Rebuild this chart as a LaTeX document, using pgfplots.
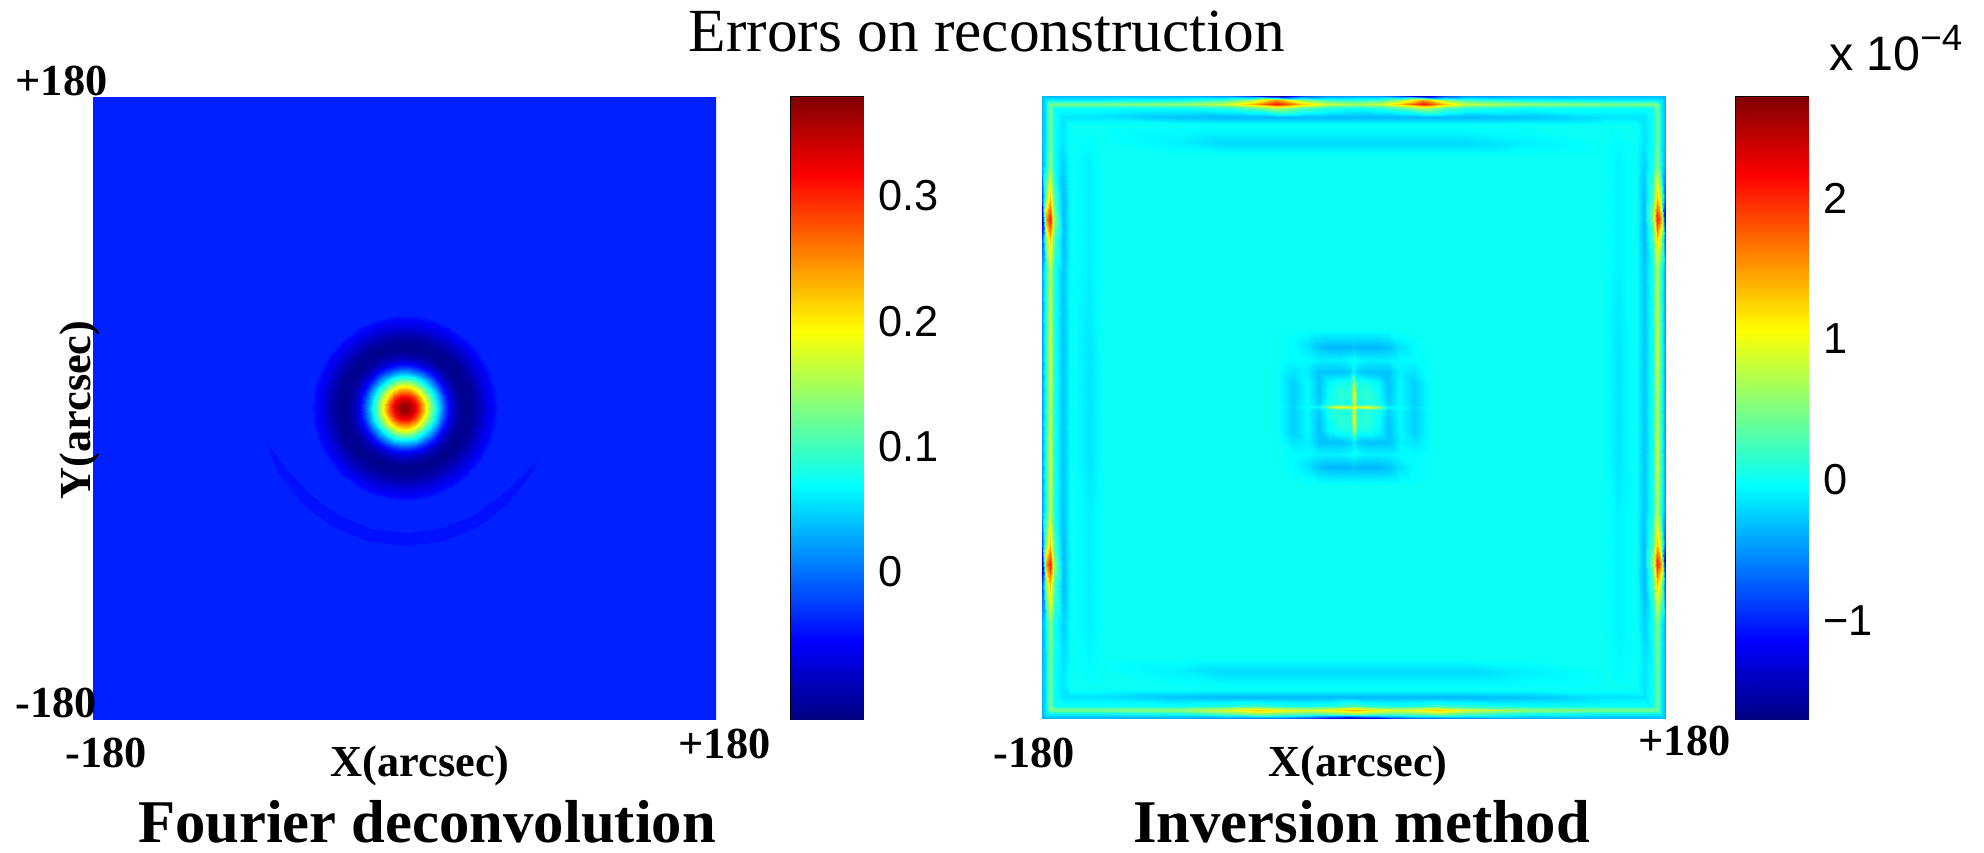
\documentclass[border=0pt]{standalone}
\usepackage{fontspec}
\setmainfont{Liberation Serif}
\setsansfont{Liberation Sans}
\usepackage{pgfplots}
\pgfplotsset{compat=1.18}
\definecolor{cres}{RGB}{0,16,255}
\pgfplotsset{
 panel/.style={scale only axis, width=186.9pt, height=186.6pt,
   xmin=-180, xmax=180, ymin=-180, ymax=180,
   axis line style={draw=none}, xtick=\empty, ytick=\empty, colormap/jet},
 cbaxis/.style={scale only axis, width=21.6pt, height=186.6pt, anchor=north west,
   xmin=0, xmax=1, xtick=\empty, colormap/jet,
   axis line style={draw=black, line width=0.6pt},
   tick align=inside, ytick pos=both, yticklabel pos=right,
   major tick length=2pt, tick style={black, line width=0.5pt},
   yticklabel style={font=\fontsize{13}{13}\selectfont\sffamily, xshift=1pt}},
 lay/.style={surf, shader=interp, point meta=explicit},
}
\begin{document}
\begin{tikzpicture}
\path[use as bounding box] (0pt,0pt) rectangle (595.2pt,-255.6pt);

% ---------------- Left panel: Fourier deconvolution ----------------
\begin{axis}[panel, at={(27.9pt,-29.1pt)}, anchor=north west,
  point meta min=-0.1175, point meta max=0.379]
% background
\addplot[surf, shader=flat, point meta=explicit, mesh/cols=2] table[meta index=2, row sep=\\] {
x y v\\ -180 -180 -0.04\\ 180 -180 -0.04\\ -180 180 -0.04\\ 180 180 -0.04\\};
% crescent
\addplot[draw=none, fill=cres] coordinates {
(-80.7,-18.8) (-72.7,-37.75) (-59.3,-55.25) (-41.75,-68.7) (-21.4,-77.1) (0.5,-80.0)
(22.4,-77.1) (42.75,-68.7) (60.25,-55.25) (73.7,-37.75) (78.3,-28.5)
(71.1,-36.25) (56.0,-51.0) (39.25,-62.6) (20.4,-69.9) (0.5,-72.5)
(-19.4,-69.9) (-38.0,-62.2) (-54.3,-50.3) (-68.35,-35.25) (-80.7,-18.8)};
% central error blob (angle, radius, value)
\addplot[lay, mesh/cols=31, data cs=polar] table[meta index=2, row sep=\\] {
a r v\\
0 0 0.372\\ 12 0 0.372\\ 24 0 0.372\\ 36 0 0.372\\ 48 0 0.372\\ 60 0 0.372\\ 72 0 0.372\\ 84 0 0.372\\ 96 0 0.372\\ 108 0 0.372\\ 120 0 0.372\\ 132 0 0.372\\ 144 0 0.372\\ 156 0 0.372\\ 168 0 0.372\\ 180 0 0.372\\ 192 0 0.372\\ 204 0 0.372\\ 216 0 0.372\\ 228 0 0.372\\ 240 0 0.372\\ 252 0 0.372\\ 264 0 0.372\\ 276 0 0.372\\ 288 0 0.372\\ 300 0 0.372\\ 312 0 0.372\\ 324 0 0.372\\ 336 0 0.372\\ 348 0 0.372\\ 360 0 0.372\\
0 3 0.361\\ 12 3 0.361\\ 24 3 0.361\\ 36 3 0.361\\ 48 3 0.361\\ 60 3 0.361\\ 72 3 0.361\\ 84 3 0.361\\ 96 3 0.361\\ 108 3 0.361\\ 120 3 0.361\\ 132 3 0.361\\ 144 3 0.361\\ 156 3 0.361\\ 168 3 0.361\\ 180 3 0.361\\ 192 3 0.361\\ 204 3 0.361\\ 216 3 0.361\\ 228 3 0.361\\ 240 3 0.361\\ 252 3 0.361\\ 264 3 0.361\\ 276 3 0.361\\ 288 3 0.361\\ 300 3 0.361\\ 312 3 0.361\\ 324 3 0.361\\ 336 3 0.361\\ 348 3 0.361\\ 360 3 0.361\\
0 6 0.327\\ 12 6 0.327\\ 24 6 0.327\\ 36 6 0.327\\ 48 6 0.327\\ 60 6 0.327\\ 72 6 0.327\\ 84 6 0.327\\ 96 6 0.327\\ 108 6 0.327\\ 120 6 0.327\\ 132 6 0.327\\ 144 6 0.327\\ 156 6 0.327\\ 168 6 0.327\\ 180 6 0.327\\ 192 6 0.327\\ 204 6 0.327\\ 216 6 0.327\\ 228 6 0.327\\ 240 6 0.327\\ 252 6 0.327\\ 264 6 0.327\\ 276 6 0.327\\ 288 6 0.327\\ 300 6 0.327\\ 312 6 0.327\\ 324 6 0.327\\ 336 6 0.327\\ 348 6 0.327\\ 360 6 0.327\\
0 9 0.271\\ 12 9 0.271\\ 24 9 0.271\\ 36 9 0.271\\ 48 9 0.271\\ 60 9 0.271\\ 72 9 0.271\\ 84 9 0.271\\ 96 9 0.271\\ 108 9 0.271\\ 120 9 0.271\\ 132 9 0.271\\ 144 9 0.271\\ 156 9 0.271\\ 168 9 0.271\\ 180 9 0.271\\ 192 9 0.271\\ 204 9 0.271\\ 216 9 0.271\\ 228 9 0.271\\ 240 9 0.271\\ 252 9 0.271\\ 264 9 0.271\\ 276 9 0.271\\ 288 9 0.271\\ 300 9 0.271\\ 312 9 0.271\\ 324 9 0.271\\ 336 9 0.271\\ 348 9 0.271\\ 360 9 0.271\\
0 12 0.204\\ 12 12 0.204\\ 24 12 0.204\\ 36 12 0.204\\ 48 12 0.204\\ 60 12 0.204\\ 72 12 0.204\\ 84 12 0.204\\ 96 12 0.204\\ 108 12 0.204\\ 120 12 0.204\\ 132 12 0.204\\ 144 12 0.204\\ 156 12 0.204\\ 168 12 0.204\\ 180 12 0.204\\ 192 12 0.204\\ 204 12 0.204\\ 216 12 0.204\\ 228 12 0.204\\ 240 12 0.204\\ 252 12 0.204\\ 264 12 0.204\\ 276 12 0.204\\ 288 12 0.204\\ 300 12 0.204\\ 312 12 0.204\\ 324 12 0.204\\ 336 12 0.204\\ 348 12 0.204\\ 360 12 0.204\\
0 15 0.137\\ 12 15 0.137\\ 24 15 0.137\\ 36 15 0.137\\ 48 15 0.137\\ 60 15 0.137\\ 72 15 0.137\\ 84 15 0.137\\ 96 15 0.137\\ 108 15 0.137\\ 120 15 0.137\\ 132 15 0.137\\ 144 15 0.137\\ 156 15 0.137\\ 168 15 0.137\\ 180 15 0.137\\ 192 15 0.137\\ 204 15 0.137\\ 216 15 0.137\\ 228 15 0.137\\ 240 15 0.137\\ 252 15 0.137\\ 264 15 0.137\\ 276 15 0.137\\ 288 15 0.137\\ 300 15 0.137\\ 312 15 0.137\\ 324 15 0.137\\ 336 15 0.137\\ 348 15 0.137\\ 360 15 0.137\\
0 18 0.075\\ 12 18 0.075\\ 24 18 0.075\\ 36 18 0.075\\ 48 18 0.075\\ 60 18 0.075\\ 72 18 0.075\\ 84 18 0.075\\ 96 18 0.075\\ 108 18 0.075\\ 120 18 0.075\\ 132 18 0.075\\ 144 18 0.075\\ 156 18 0.075\\ 168 18 0.075\\ 180 18 0.075\\ 192 18 0.075\\ 204 18 0.075\\ 216 18 0.075\\ 228 18 0.075\\ 240 18 0.075\\ 252 18 0.075\\ 264 18 0.075\\ 276 18 0.075\\ 288 18 0.075\\ 300 18 0.075\\ 312 18 0.075\\ 324 18 0.075\\ 336 18 0.075\\ 348 18 0.075\\ 360 18 0.075\\
0 21 0.019\\ 12 21 0.019\\ 24 21 0.019\\ 36 21 0.019\\ 48 21 0.019\\ 60 21 0.019\\ 72 21 0.019\\ 84 21 0.019\\ 96 21 0.019\\ 108 21 0.019\\ 120 21 0.019\\ 132 21 0.019\\ 144 21 0.019\\ 156 21 0.019\\ 168 21 0.019\\ 180 21 0.019\\ 192 21 0.019\\ 204 21 0.019\\ 216 21 0.019\\ 228 21 0.019\\ 240 21 0.019\\ 252 21 0.019\\ 264 21 0.019\\ 276 21 0.019\\ 288 21 0.019\\ 300 21 0.019\\ 312 21 0.019\\ 324 21 0.019\\ 336 21 0.019\\ 348 21 0.019\\ 360 21 0.019\\
0 24 -0.031\\ 12 24 -0.031\\ 24 24 -0.031\\ 36 24 -0.031\\ 48 24 -0.031\\ 60 24 -0.031\\ 72 24 -0.031\\ 84 24 -0.031\\ 96 24 -0.031\\ 108 24 -0.031\\ 120 24 -0.031\\ 132 24 -0.031\\ 144 24 -0.031\\ 156 24 -0.031\\ 168 24 -0.031\\ 180 24 -0.031\\ 192 24 -0.031\\ 204 24 -0.031\\ 216 24 -0.031\\ 228 24 -0.031\\ 240 24 -0.031\\ 252 24 -0.031\\ 264 24 -0.031\\ 276 24 -0.031\\ 288 24 -0.031\\ 300 24 -0.031\\ 312 24 -0.031\\ 324 24 -0.031\\ 336 24 -0.031\\ 348 24 -0.031\\ 360 24 -0.031\\
0 27 -0.070\\ 12 27 -0.070\\ 24 27 -0.070\\ 36 27 -0.070\\ 48 27 -0.070\\ 60 27 -0.070\\ 72 27 -0.070\\ 84 27 -0.070\\ 96 27 -0.070\\ 108 27 -0.070\\ 120 27 -0.070\\ 132 27 -0.070\\ 144 27 -0.070\\ 156 27 -0.070\\ 168 27 -0.070\\ 180 27 -0.070\\ 192 27 -0.070\\ 204 27 -0.070\\ 216 27 -0.070\\ 228 27 -0.070\\ 240 27 -0.070\\ 252 27 -0.070\\ 264 27 -0.070\\ 276 27 -0.070\\ 288 27 -0.070\\ 300 27 -0.070\\ 312 27 -0.070\\ 324 27 -0.070\\ 336 27 -0.070\\ 348 27 -0.070\\ 360 27 -0.070\\
0 30 -0.096\\ 12 30 -0.096\\ 24 30 -0.096\\ 36 30 -0.096\\ 48 30 -0.096\\ 60 30 -0.096\\ 72 30 -0.096\\ 84 30 -0.096\\ 96 30 -0.096\\ 108 30 -0.096\\ 120 30 -0.096\\ 132 30 -0.096\\ 144 30 -0.096\\ 156 30 -0.096\\ 168 30 -0.096\\ 180 30 -0.096\\ 192 30 -0.096\\ 204 30 -0.096\\ 216 30 -0.096\\ 228 30 -0.096\\ 240 30 -0.096\\ 252 30 -0.096\\ 264 30 -0.096\\ 276 30 -0.096\\ 288 30 -0.096\\ 300 30 -0.096\\ 312 30 -0.096\\ 324 30 -0.096\\ 336 30 -0.096\\ 348 30 -0.096\\ 360 30 -0.096\\
0 34 -0.111\\ 12 34 -0.111\\ 24 34 -0.111\\ 36 34 -0.111\\ 48 34 -0.111\\ 60 34 -0.111\\ 72 34 -0.111\\ 84 34 -0.111\\ 96 34 -0.111\\ 108 34 -0.111\\ 120 34 -0.111\\ 132 34 -0.111\\ 144 34 -0.111\\ 156 34 -0.111\\ 168 34 -0.111\\ 180 34 -0.111\\ 192 34 -0.111\\ 204 34 -0.111\\ 216 34 -0.111\\ 228 34 -0.111\\ 240 34 -0.111\\ 252 34 -0.111\\ 264 34 -0.111\\ 276 34 -0.111\\ 288 34 -0.111\\ 300 34 -0.111\\ 312 34 -0.111\\ 324 34 -0.111\\ 336 34 -0.111\\ 348 34 -0.111\\ 360 34 -0.111\\
0 38 -0.109\\ 12 38 -0.109\\ 24 38 -0.109\\ 36 38 -0.109\\ 48 38 -0.109\\ 60 38 -0.109\\ 72 38 -0.109\\ 84 38 -0.109\\ 96 38 -0.109\\ 108 38 -0.109\\ 120 38 -0.109\\ 132 38 -0.109\\ 144 38 -0.109\\ 156 38 -0.109\\ 168 38 -0.109\\ 180 38 -0.109\\ 192 38 -0.109\\ 204 38 -0.109\\ 216 38 -0.109\\ 228 38 -0.109\\ 240 38 -0.109\\ 252 38 -0.109\\ 264 38 -0.109\\ 276 38 -0.109\\ 288 38 -0.109\\ 300 38 -0.109\\ 312 38 -0.109\\ 324 38 -0.109\\ 336 38 -0.109\\ 348 38 -0.109\\ 360 38 -0.109\\
0 42 -0.096\\ 12 42 -0.096\\ 24 42 -0.096\\ 36 42 -0.096\\ 48 42 -0.096\\ 60 42 -0.096\\ 72 42 -0.096\\ 84 42 -0.096\\ 96 42 -0.096\\ 108 42 -0.096\\ 120 42 -0.096\\ 132 42 -0.096\\ 144 42 -0.096\\ 156 42 -0.096\\ 168 42 -0.096\\ 180 42 -0.096\\ 192 42 -0.096\\ 204 42 -0.096\\ 216 42 -0.096\\ 228 42 -0.096\\ 240 42 -0.096\\ 252 42 -0.096\\ 264 42 -0.096\\ 276 42 -0.096\\ 288 42 -0.096\\ 300 42 -0.096\\ 312 42 -0.096\\ 324 42 -0.096\\ 336 42 -0.096\\ 348 42 -0.096\\ 360 42 -0.096\\
0 46 -0.076\\ 12 46 -0.076\\ 24 46 -0.076\\ 36 46 -0.076\\ 48 46 -0.076\\ 60 46 -0.076\\ 72 46 -0.076\\ 84 46 -0.076\\ 96 46 -0.076\\ 108 46 -0.076\\ 120 46 -0.076\\ 132 46 -0.076\\ 144 46 -0.076\\ 156 46 -0.076\\ 168 46 -0.076\\ 180 46 -0.076\\ 192 46 -0.076\\ 204 46 -0.076\\ 216 46 -0.076\\ 228 46 -0.076\\ 240 46 -0.076\\ 252 46 -0.076\\ 264 46 -0.076\\ 276 46 -0.076\\ 288 46 -0.076\\ 300 46 -0.076\\ 312 46 -0.076\\ 324 46 -0.076\\ 336 46 -0.076\\ 348 46 -0.076\\ 360 46 -0.076\\
0 51 -0.056\\ 12 51 -0.056\\ 24 51 -0.056\\ 36 51 -0.056\\ 48 51 -0.056\\ 60 51 -0.056\\ 72 51 -0.056\\ 84 51 -0.056\\ 96 51 -0.056\\ 108 51 -0.056\\ 120 51 -0.056\\ 132 51 -0.056\\ 144 51 -0.056\\ 156 51 -0.056\\ 168 51 -0.056\\ 180 51 -0.056\\ 192 51 -0.056\\ 204 51 -0.056\\ 216 51 -0.056\\ 228 51 -0.056\\ 240 51 -0.056\\ 252 51 -0.056\\ 264 51 -0.056\\ 276 51 -0.056\\ 288 51 -0.056\\ 300 51 -0.056\\ 312 51 -0.056\\ 324 51 -0.056\\ 336 51 -0.056\\ 348 51 -0.056\\ 360 51 -0.056\\
0 54 -0.040\\ 12 54 -0.040\\ 24 54 -0.040\\ 36 54 -0.040\\ 48 54 -0.040\\ 60 54 -0.040\\ 72 54 -0.040\\ 84 54 -0.040\\ 96 54 -0.040\\ 108 54 -0.040\\ 120 54 -0.040\\ 132 54 -0.040\\ 144 54 -0.040\\ 156 54 -0.040\\ 168 54 -0.040\\ 180 54 -0.040\\ 192 54 -0.040\\ 204 54 -0.040\\ 216 54 -0.040\\ 228 54 -0.040\\ 240 54 -0.040\\ 252 54 -0.040\\ 264 54 -0.040\\ 276 54 -0.040\\ 288 54 -0.040\\ 300 54 -0.040\\ 312 54 -0.040\\ 324 54 -0.040\\ 336 54 -0.040\\ 348 54 -0.040\\ 360 54 -0.040\\
};
\end{axis}

% left colour bar
\begin{axis}[cbaxis, at={(237.3pt,-29.1pt)}, ymin=-0.1175, ymax=0.379,
  point meta min=-0.1175, point meta max=0.379,
  ytick={0,0.1,0.2,0.3}, yticklabels={0,0.1,0.2,0.3}]
\addplot[lay, mesh/cols=2] table[meta index=2, row sep=\\] {
x y v\\
0 -0.1175 -0.1175\\ 1 -0.1175 -0.1175\\
0 -0.0554 -0.0554\\ 1 -0.0554 -0.0554\\
0 0.0687 0.0687\\ 1 0.0687 0.0687\\
0 0.1930 0.1930\\ 1 0.1930 0.1930\\
0 0.3169 0.3169\\ 1 0.3169 0.3169\\
0 0.379 0.379\\ 1 0.379 0.379\\
};
\end{axis}

% ---------------- Right panel: Inversion method (values x 1e-4) ----------------
\begin{axis}[panel, at={(312.6pt,-28.8pt)}, anchor=north west,
  point meta min=-1.70, point meta max=2.72]
% background
\addplot[surf, shader=flat, point meta=explicit, mesh/cols=2] table[meta index=2, row sep=\\] {
x y v\\ -180 -180 0\\ 180 -180 0\\ -180 180 0\\ 180 180 0\\};
% top edge strip
\addplot[lay, mesh/cols=17] table[meta index=2, row sep=\\] {
x y v\\
-180 145 0\\ -150 145 0\\ -100 145 0\\ -75 145 0\\ -60 145 0\\ -45 145 0\\ -30 145 0\\ -15 145 0\\ 0 145 0\\ 15 145 0\\ 27 145 0\\ 40 145 0\\ 53 145 0\\ 65 145 0\\ 100 145 0\\ 150 145 0\\ 180 145 0\\
-180 153 0\\ -150 153 0\\ -100 153 -0.1\\ -75 153 -0.2\\ -60 153 -0.2\\ -45 153 -0.2\\ -30 153 -0.2\\ -15 153 -0.2\\ 0 153 -0.2\\ 15 153 -0.2\\ 27 153 -0.2\\ 40 153 -0.2\\ 53 153 -0.2\\ 65 153 -0.2\\ 100 153 -0.1\\ 150 153 0\\ 180 153 0\\
-180 163 0\\ -150 163 0\\ -100 163 0\\ -75 163 0\\ -60 163 0\\ -45 163 0\\ -30 163 0\\ -15 163 0\\ 0 163 0\\ 15 163 0\\ 27 163 0\\ 40 163 0\\ 53 163 0\\ 65 163 0\\ 100 163 0\\ 150 163 0\\ 180 163 0\\
-180 168 -0.15\\ -150 168 -0.15\\ -100 168 -0.3\\ -75 168 -0.35\\ -60 168 -0.35\\ -45 168 -0.35\\ -30 168 -0.35\\ -15 168 -0.35\\ 0 168 -0.35\\ 15 168 -0.35\\ 27 168 -0.35\\ 40 168 -0.35\\ 53 168 -0.35\\ 65 168 -0.35\\ 100 168 -0.3\\ 150 168 -0.15\\ 180 168 -0.15\\
-180 173 0\\ -150 173 0\\ -100 173 0\\ -75 173 0.1\\ -60 173 0.3\\ -45 173 0.7\\ -30 173 0.3\\ -15 173 0.1\\ 0 173 0\\ 15 173 0.1\\ 27 173 0.3\\ 40 173 0.7\\ 53 173 0.3\\ 65 173 0.1\\ 100 173 0\\ 150 173 0\\ 180 173 0\\
-180 175.5 0.5\\ -150 175.5 0.5\\ -100 175.5 0.6\\ -75 175.5 0.8\\ -60 175.5 1.3\\ -45 175.5 2.1\\ -30 175.5 1.3\\ -15 175.5 0.8\\ 0 175.5 0.7\\ 15 175.5 0.8\\ 27 175.5 1.3\\ 40 175.5 2.1\\ 53 175.5 1.3\\ 65 175.5 0.8\\ 100 175.5 0.6\\ 150 175.5 0.5\\ 180 175.5 0.5\\
-180 177.5 -0.1\\ -150 177.5 -0.1\\ -100 177.5 0\\ -75 177.5 0.2\\ -60 177.5 0.6\\ -45 177.5 1.5\\ -30 177.5 0.6\\ -15 177.5 0.2\\ 0 177.5 0.1\\ 15 177.5 0.2\\ 27 177.5 0.6\\ 40 177.5 1.5\\ 53 177.5 0.6\\ 65 177.5 0.2\\ 100 177.5 0\\ 150 177.5 -0.1\\ 180 177.5 -0.1\\
-180 180 -0.35\\ -150 180 -0.35\\ -100 180 -0.4\\ -75 180 -0.5\\ -60 180 -0.8\\ -45 180 -1.5\\ -30 180 -0.8\\ -15 180 -0.5\\ 0 180 -0.45\\ 15 180 -0.5\\ 27 180 -0.8\\ 40 180 -1.5\\ 53 180 -0.8\\ 65 180 -0.5\\ 100 180 -0.4\\ 150 180 -0.35\\ 180 180 -0.35\\
};
% bottom edge strip
\addplot[lay, mesh/cols=17] table[meta index=2, row sep=\\] {
x y v\\
-180 -180 -0.35\\ -150 -180 -0.35\\ -100 -180 -0.4\\ -75 -180 -0.5\\ -55 -180 -0.6\\ -40 -180 -0.6\\ -25 -180 -0.8\\ -12 -180 -1.2\\ 0 -180 -1.5\\ 12 -180 -1.2\\ 25 -180 -0.8\\ 37 -180 -0.6\\ 49 -180 -0.6\\ 65 -180 -0.5\\ 100 -180 -0.4\\ 150 -180 -0.35\\ 180 -180 -0.35\\
-180 -177.5 -0.1\\ -150 -177.5 -0.1\\ -100 -177.5 0\\ -75 -177.5 0.3\\ -55 -177.5 0.6\\ -40 -177.5 0.4\\ -25 -177.5 0.3\\ -12 -177.5 0.4\\ 0 -177.5 0.6\\ 12 -177.5 0.4\\ 25 -177.5 0.3\\ 37 -177.5 0.4\\ 49 -177.5 0.6\\ 65 -177.5 0.3\\ 100 -177.5 0\\ 150 -177.5 -0.1\\ 180 -177.5 -0.1\\
-180 -175.5 0.5\\ -150 -175.5 0.5\\ -100 -175.5 0.6\\ -75 -175.5 0.9\\ -55 -175.5 1.3\\ -40 -175.5 1.0\\ -25 -175.5 0.9\\ -12 -175.5 1.1\\ 0 -175.5 1.4\\ 12 -175.5 1.1\\ 25 -175.5 0.9\\ 37 -175.5 1.0\\ 49 -175.5 1.3\\ 65 -175.5 0.9\\ 100 -175.5 0.6\\ 150 -175.5 0.5\\ 180 -175.5 0.5\\
-180 -173 0\\ -150 -173 0\\ -100 -173 0\\ -75 -173 0.1\\ -55 -173 0.2\\ -40 -173 0.1\\ -25 -173 0.05\\ -12 -173 0.1\\ 0 -173 0.3\\ 12 -173 0.1\\ 25 -173 0.05\\ 37 -173 0.1\\ 49 -173 0.2\\ 65 -173 0.1\\ 100 -173 0\\ 150 -173 0\\ 180 -173 0\\
-180 -168 -0.15\\ -150 -168 -0.15\\ -100 -168 -0.3\\ -75 -168 -0.35\\ -55 -168 -0.35\\ -40 -168 -0.35\\ -25 -168 -0.35\\ -12 -168 -0.35\\ 0 -168 -0.35\\ 12 -168 -0.35\\ 25 -168 -0.35\\ 37 -168 -0.35\\ 49 -168 -0.35\\ 65 -168 -0.35\\ 100 -168 -0.3\\ 150 -168 -0.15\\ 180 -168 -0.15\\
-180 -163 0\\ -150 -163 0\\ -100 -163 0\\ -75 -163 0\\ -55 -163 0\\ -40 -163 0\\ -25 -163 0\\ -12 -163 0\\ 0 -163 0\\ 12 -163 0\\ 25 -163 0\\ 37 -163 0\\ 49 -163 0\\ 65 -163 0\\ 100 -163 0\\ 150 -163 0\\ 180 -163 0\\
-180 -153 0\\ -150 -153 0\\ -100 -153 -0.1\\ -75 -153 -0.2\\ -55 -153 -0.2\\ -40 -153 -0.2\\ -25 -153 -0.2\\ -12 -153 -0.2\\ 0 -153 -0.2\\ 12 -153 -0.2\\ 25 -153 -0.2\\ 37 -153 -0.2\\ 49 -153 -0.2\\ 65 -153 -0.2\\ 100 -153 -0.1\\ 150 -153 0\\ 180 -153 0\\
-180 -145 0\\ -150 -145 0\\ -100 -145 0\\ -75 -145 0\\ -55 -145 0\\ -40 -145 0\\ -25 -145 0\\ -12 -145 0\\ 0 -145 0\\ 12 -145 0\\ 25 -145 0\\ 37 -145 0\\ 49 -145 0\\ 65 -145 0\\ 100 -145 0\\ 150 -145 0\\ 180 -145 0\\
};
% left edge strip
\addplot[lay, mesh/cols=8] table[meta index=2, row sep=\\] {
x y v\\
-180 -180 -0.35\\ -177.5 -180 -0.35\\ -175.5 -180 -0.35\\ -173 -180 -0.35\\ -168 -180 -0.35\\ -163 -180 -0.35\\ -153 -180 -0.35\\ -145 -180 -0.35\\
-180 -177.5 -0.35\\ -177.5 -177.5 -0.1\\ -175.5 -177.5 -0.1\\ -173 -177.5 -0.1\\ -168 -177.5 -0.1\\ -163 -177.5 -0.1\\ -153 -177.5 -0.1\\ -145 -177.5 -0.1\\
-180 -175.5 -0.35\\ -177.5 -175.5 -0.1\\ -175.5 -175.5 0.5\\ -173 -175.5 0.5\\ -168 -175.5 0.5\\ -163 -175.5 0.5\\ -153 -175.5 0.5\\ -145 -175.5 0.5\\
-180 -173 -0.35\\ -177.5 -173 -0.1\\ -175.5 -173 0.5\\ -173 -173 0\\ -168 -173 0\\ -163 -173 0\\ -153 -173 0\\ -145 -173 0\\
-180 -168 -0.35\\ -177.5 -168 -0.1\\ -175.5 -168 0.5\\ -173 -168 0\\ -168 -168 -0.15\\ -163 -168 -0.15\\ -153 -168 -0.15\\ -145 -168 -0.15\\
-180 -163 -0.35\\ -177.5 -163 -0.1\\ -175.5 -163 0.5\\ -173 -163 0\\ -168 -163 -0.15\\ -163 -163 0\\ -153 -163 0\\ -145 -163 0\\
-180 -153 -0.35\\ -177.5 -153 -0.1\\ -175.5 -153 0.5\\ -173 -153 0\\ -168 -153 -0.15\\ -163 -153 0\\ -153 -153 -0.05\\ -145 -153 0\\
-180 -125 -0.4\\ -177.5 -125 -0.05\\ -175.5 -125 0.6\\ -173 -125 0.05\\ -168 -125 -0.25\\ -163 -125 0\\ -153 -125 -0.1\\ -145 -125 0\\
-180 -103 -0.8\\ -177.5 -103 0.6\\ -175.5 -103 1.3\\ -173 -103 0.3\\ -168 -103 -0.35\\ -163 -103 0\\ -153 -103 -0.1\\ -145 -103 0\\
-180 -91 -1.5\\ -177.5 -91 1.5\\ -175.5 -91 2.1\\ -173 -91 0.6\\ -168 -91 -0.35\\ -163 -91 0\\ -153 -91 -0.1\\ -145 -91 0\\
-180 -79 -0.8\\ -177.5 -79 0.6\\ -175.5 -79 1.3\\ -173 -79 0.3\\ -168 -79 -0.35\\ -163 -79 0\\ -153 -79 -0.1\\ -145 -79 0\\
-180 -60 -0.45\\ -177.5 -60 0.1\\ -175.5 -60 0.8\\ -173 -60 0.1\\ -168 -60 -0.3\\ -163 -60 0\\ -153 -60 -0.1\\ -145 -60 0\\
-180 -30 -0.45\\ -177.5 -30 0.15\\ -175.5 -30 0.9\\ -173 -30 0.1\\ -168 -30 -0.3\\ -163 -30 0\\ -153 -30 -0.15\\ -145 -30 0\\
-180 0 -0.45\\ -177.5 0 0.1\\ -175.5 0 0.8\\ -173 0 0.1\\ -168 0 -0.3\\ -163 0 0\\ -153 0 -0.15\\ -145 0 0\\
-180 30 -0.45\\ -177.5 30 0.15\\ -175.5 30 0.9\\ -173 30 0.1\\ -168 30 -0.3\\ -163 30 0\\ -153 30 -0.15\\ -145 30 0\\
-180 80 -0.45\\ -177.5 80 0.1\\ -175.5 80 0.8\\ -173 80 0.1\\ -168 80 -0.3\\ -163 80 0\\ -153 80 -0.1\\ -145 80 0\\
-180 97 -0.8\\ -177.5 97 0.6\\ -175.5 97 1.3\\ -173 97 0.3\\ -168 97 -0.35\\ -163 97 0\\ -153 97 -0.1\\ -145 97 0\\
-180 109 -1.5\\ -177.5 109 1.5\\ -175.5 109 2.1\\ -173 109 0.6\\ -168 109 -0.35\\ -163 109 0\\ -153 109 -0.1\\ -145 109 0\\
-180 121 -0.8\\ -177.5 121 0.6\\ -175.5 121 1.3\\ -173 121 0.3\\ -168 121 -0.35\\ -163 121 0\\ -153 121 -0.1\\ -145 121 0\\
-180 140 -0.4\\ -177.5 140 -0.05\\ -175.5 140 0.6\\ -173 140 0.05\\ -168 140 -0.25\\ -163 140 0\\ -153 140 -0.1\\ -145 140 0\\
-180 153 -0.35\\ -177.5 153 -0.1\\ -175.5 153 0.5\\ -173 153 0\\ -168 153 -0.15\\ -163 153 0\\ -153 153 -0.05\\ -145 153 0\\
-180 163 -0.35\\ -177.5 163 -0.1\\ -175.5 163 0.5\\ -173 163 0\\ -168 163 -0.15\\ -163 163 0\\ -153 163 0\\ -145 163 0\\
-180 168 -0.35\\ -177.5 168 -0.1\\ -175.5 168 0.5\\ -173 168 0\\ -168 168 -0.15\\ -163 168 -0.15\\ -153 168 -0.15\\ -145 168 -0.15\\
-180 173 -0.35\\ -177.5 173 -0.1\\ -175.5 173 0.5\\ -173 173 0\\ -168 173 0\\ -163 173 0\\ -153 173 0\\ -145 173 0\\
-180 175.5 -0.35\\ -177.5 175.5 -0.1\\ -175.5 175.5 0.5\\ -173 175.5 0.5\\ -168 175.5 0.5\\ -163 175.5 0.5\\ -153 175.5 0.5\\ -145 175.5 0.5\\
-180 177.5 -0.35\\ -177.5 177.5 -0.1\\ -175.5 177.5 -0.1\\ -173 177.5 -0.1\\ -168 177.5 -0.1\\ -163 177.5 -0.1\\ -153 177.5 -0.1\\ -145 177.5 -0.1\\
-180 180 -0.35\\ -177.5 180 -0.35\\ -175.5 180 -0.35\\ -173 180 -0.35\\ -168 180 -0.35\\ -163 180 -0.35\\ -153 180 -0.35\\ -145 180 -0.35\\
};
% right edge strip
\addplot[lay, mesh/cols=8] table[meta index=2, row sep=\\] {
x y v\\
145 -180 -0.35\\ 153 -180 -0.35\\ 163 -180 -0.35\\ 168 -180 -0.35\\ 173 -180 -0.35\\ 175.5 -180 -0.35\\ 177.5 -180 -0.35\\ 180 -180 -0.35\\
145 -177.5 -0.1\\ 153 -177.5 -0.1\\ 163 -177.5 -0.1\\ 168 -177.5 -0.1\\ 173 -177.5 -0.1\\ 175.5 -177.5 -0.1\\ 177.5 -177.5 -0.1\\ 180 -177.5 -0.35\\
145 -175.5 0.5\\ 153 -175.5 0.5\\ 163 -175.5 0.5\\ 168 -175.5 0.5\\ 173 -175.5 0.5\\ 175.5 -175.5 0.5\\ 177.5 -175.5 -0.1\\ 180 -175.5 -0.35\\
145 -173 0\\ 153 -173 0\\ 163 -173 0\\ 168 -173 0\\ 173 -173 0\\ 175.5 -173 0.5\\ 177.5 -173 -0.1\\ 180 -173 -0.35\\
145 -168 -0.15\\ 153 -168 -0.15\\ 163 -168 -0.15\\ 168 -168 -0.15\\ 173 -168 0\\ 175.5 -168 0.5\\ 177.5 -168 -0.1\\ 180 -168 -0.35\\
145 -163 0\\ 153 -163 0\\ 163 -163 0\\ 168 -163 -0.15\\ 173 -163 0\\ 175.5 -163 0.5\\ 177.5 -163 -0.1\\ 180 -163 -0.35\\
145 -153 0\\ 153 -153 -0.05\\ 163 -153 0\\ 168 -153 -0.15\\ 173 -153 0\\ 175.5 -153 0.5\\ 177.5 -153 -0.1\\ 180 -153 -0.35\\
145 -125 0\\ 153 -125 -0.1\\ 163 -125 0\\ 168 -125 -0.25\\ 173 -125 0.05\\ 175.5 -125 0.6\\ 177.5 -125 -0.05\\ 180 -125 -0.4\\
145 -103 0\\ 153 -103 -0.1\\ 163 -103 0\\ 168 -103 -0.35\\ 173 -103 0.3\\ 175.5 -103 1.3\\ 177.5 -103 0.6\\ 180 -103 -0.8\\
145 -91 0\\ 153 -91 -0.1\\ 163 -91 0\\ 168 -91 -0.35\\ 173 -91 0.6\\ 175.5 -91 2.1\\ 177.5 -91 1.5\\ 180 -91 -1.5\\
145 -79 0\\ 153 -79 -0.1\\ 163 -79 0\\ 168 -79 -0.35\\ 173 -79 0.3\\ 175.5 -79 1.3\\ 177.5 -79 0.6\\ 180 -79 -0.8\\
145 -60 0\\ 153 -60 -0.1\\ 163 -60 0\\ 168 -60 -0.3\\ 173 -60 0.1\\ 175.5 -60 0.8\\ 177.5 -60 0.1\\ 180 -60 -0.45\\
145 -30 0\\ 153 -30 -0.15\\ 163 -30 0\\ 168 -30 -0.3\\ 173 -30 0.1\\ 175.5 -30 0.9\\ 177.5 -30 0.15\\ 180 -30 -0.45\\
145 0 0\\ 153 0 -0.15\\ 163 0 0\\ 168 0 -0.3\\ 173 0 0.1\\ 175.5 0 0.8\\ 177.5 0 0.1\\ 180 0 -0.45\\
145 30 0\\ 153 30 -0.15\\ 163 30 0\\ 168 30 -0.3\\ 173 30 0.1\\ 175.5 30 0.9\\ 177.5 30 0.15\\ 180 30 -0.45\\
145 80 0\\ 153 80 -0.1\\ 163 80 0\\ 168 80 -0.3\\ 173 80 0.1\\ 175.5 80 0.8\\ 177.5 80 0.1\\ 180 80 -0.45\\
145 97 0\\ 153 97 -0.1\\ 163 97 0\\ 168 97 -0.35\\ 173 97 0.3\\ 175.5 97 1.3\\ 177.5 97 0.6\\ 180 97 -0.8\\
145 109 0\\ 153 109 -0.1\\ 163 109 0\\ 168 109 -0.35\\ 173 109 0.6\\ 175.5 109 2.1\\ 177.5 109 1.5\\ 180 109 -1.5\\
145 121 0\\ 153 121 -0.1\\ 163 121 0\\ 168 121 -0.35\\ 173 121 0.3\\ 175.5 121 1.3\\ 177.5 121 0.6\\ 180 121 -0.8\\
145 140 0\\ 153 140 -0.1\\ 163 140 0\\ 168 140 -0.25\\ 173 140 0.05\\ 175.5 140 0.6\\ 177.5 140 -0.05\\ 180 140 -0.4\\
145 153 0\\ 153 153 -0.05\\ 163 153 0\\ 168 153 -0.15\\ 173 153 0\\ 175.5 153 0.5\\ 177.5 153 -0.1\\ 180 153 -0.35\\
145 163 0\\ 153 163 0\\ 163 163 0\\ 168 163 -0.15\\ 173 163 0\\ 175.5 163 0.5\\ 177.5 163 -0.1\\ 180 163 -0.35\\
145 168 -0.15\\ 153 168 -0.15\\ 163 168 -0.15\\ 168 168 -0.15\\ 173 168 0\\ 175.5 168 0.5\\ 177.5 168 -0.1\\ 180 168 -0.35\\
145 173 0\\ 153 173 0\\ 163 173 0\\ 168 173 0\\ 173 173 0\\ 175.5 173 0.5\\ 177.5 173 -0.1\\ 180 173 -0.35\\
145 175.5 0.5\\ 153 175.5 0.5\\ 163 175.5 0.5\\ 168 175.5 0.5\\ 173 175.5 0.5\\ 175.5 175.5 0.5\\ 177.5 175.5 -0.1\\ 180 175.5 -0.35\\
145 177.5 -0.1\\ 153 177.5 -0.1\\ 163 177.5 -0.1\\ 168 177.5 -0.1\\ 173 177.5 -0.1\\ 175.5 177.5 -0.1\\ 177.5 177.5 -0.1\\ 180 177.5 -0.35\\
145 180 -0.35\\ 153 180 -0.35\\ 163 180 -0.35\\ 168 180 -0.35\\ 173 180 -0.35\\ 175.5 180 -0.35\\ 177.5 180 -0.35\\ 180 180 -0.35\\
};
% central cross pattern
\addplot[lay, mesh/cols=15] table[meta index=2, row sep=\\] {
x y v\\
-45 -45 0\\ -35 -45 0\\ -27 -45 0\\ -20 -45 0\\ -14 -45 0\\ -8 -45 0\\ -2 -45 0\\ 0 -45 0\\ 2 -45 0\\ 8 -45 0\\ 14 -45 0\\ 20 -45 0\\ 27 -45 0\\ 35 -45 0\\ 45 -45 0\\
-45 -35 0\\ -35 -35 -0.05\\ -27 -35 -0.15\\ -20 -35 -0.3\\ -14 -35 -0.35\\ -8 -35 -0.35\\ -2 -35 -0.35\\ 0 -35 -0.3\\ 2 -35 -0.35\\ 8 -35 -0.35\\ 14 -35 -0.35\\ 20 -35 -0.3\\ 27 -35 -0.15\\ 35 -35 -0.05\\ 45 -35 0\\
-45 -27 0\\ -35 -27 -0.05\\ -27 -27 -0.05\\ -20 -27 -0.1\\ -14 -27 -0.1\\ -8 -27 -0.1\\ -2 -27 -0.05\\ 0 -27 0\\ 2 -27 -0.05\\ 8 -27 -0.1\\ 14 -27 -0.1\\ 20 -27 -0.1\\ 27 -27 -0.05\\ 35 -27 -0.05\\ 45 -27 0\\
-45 -20 0\\ -35 -20 -0.15\\ -27 -20 -0.1\\ -20 -20 -0.3\\ -14 -20 -0.3\\ -8 -20 -0.3\\ -2 -20 -0.25\\ 0 -20 -0.1\\ 2 -20 -0.25\\ 8 -20 -0.3\\ 14 -20 -0.3\\ 20 -20 -0.3\\ 27 -20 -0.1\\ 35 -20 -0.15\\ 45 -20 0\\
-45 -14 0\\ -35 -14 -0.25\\ -27 -14 -0.05\\ -20 -14 -0.3\\ -14 -14 -0.05\\ -8 -14 0.05\\ -2 -14 0.05\\ 0 -14 0.6\\ 2 -14 0.05\\ 8 -14 0.05\\ 14 -14 -0.05\\ 20 -14 -0.3\\ 27 -14 -0.05\\ 35 -14 -0.25\\ 45 -14 0\\
-45 -8 0\\ -35 -8 -0.25\\ -27 -8 -0.05\\ -20 -8 -0.3\\ -14 -8 0\\ -8 -8 0.15\\ -2 -8 0.1\\ 0 -8 1.0\\ 2 -8 0.1\\ 8 -8 0.15\\ 14 -8 0\\ 20 -8 -0.3\\ 27 -8 -0.05\\ 35 -8 -0.25\\ 45 -8 0\\
-45 -2 0\\ -35 -2 -0.25\\ -27 -2 -0.05\\ -20 -2 -0.25\\ -14 -2 0.05\\ -8 -2 0.1\\ -2 -2 0.05\\ 0 -2 0.9\\ 2 -2 0.05\\ 8 -2 0.1\\ 14 -2 0.05\\ 20 -2 -0.25\\ 27 -2 -0.05\\ 35 -2 -0.25\\ 45 -2 0\\
-45 0 0\\ -35 0 -0.2\\ -27 0 0\\ -20 0 -0.1\\ -14 0 0.6\\ -8 0 1.0\\ -2 0 0.9\\ 0 0 0.9\\ 2 0 0.9\\ 8 0 1.0\\ 14 0 0.6\\ 20 0 -0.1\\ 27 0 0\\ 35 0 -0.2\\ 45 0 0\\
-45 2 0\\ -35 2 -0.25\\ -27 2 -0.05\\ -20 2 -0.25\\ -14 2 0.05\\ -8 2 0.1\\ -2 2 0.05\\ 0 2 0.9\\ 2 2 0.05\\ 8 2 0.1\\ 14 2 0.05\\ 20 2 -0.25\\ 27 2 -0.05\\ 35 2 -0.25\\ 45 2 0\\
-45 8 0\\ -35 8 -0.25\\ -27 8 -0.05\\ -20 8 -0.3\\ -14 8 0\\ -8 8 0.15\\ -2 8 0.1\\ 0 8 1.0\\ 2 8 0.1\\ 8 8 0.15\\ 14 8 0\\ 20 8 -0.3\\ 27 8 -0.05\\ 35 8 -0.25\\ 45 8 0\\
-45 14 0\\ -35 14 -0.25\\ -27 14 -0.05\\ -20 14 -0.3\\ -14 14 -0.05\\ -8 14 0.05\\ -2 14 0.05\\ 0 14 0.6\\ 2 14 0.05\\ 8 14 0.05\\ 14 14 -0.05\\ 20 14 -0.3\\ 27 14 -0.05\\ 35 14 -0.25\\ 45 14 0\\
-45 20 0\\ -35 20 -0.15\\ -27 20 -0.1\\ -20 20 -0.3\\ -14 20 -0.3\\ -8 20 -0.3\\ -2 20 -0.25\\ 0 20 -0.1\\ 2 20 -0.25\\ 8 20 -0.3\\ 14 20 -0.3\\ 20 20 -0.3\\ 27 20 -0.1\\ 35 20 -0.15\\ 45 20 0\\
-45 27 0\\ -35 27 -0.05\\ -27 27 -0.05\\ -20 27 -0.1\\ -14 27 -0.1\\ -8 27 -0.1\\ -2 27 -0.05\\ 0 27 0\\ 2 27 -0.05\\ 8 27 -0.1\\ 14 27 -0.1\\ 20 27 -0.1\\ 27 27 -0.05\\ 35 27 -0.05\\ 45 27 0\\
-45 35 0\\ -35 35 -0.05\\ -27 35 -0.15\\ -20 35 -0.3\\ -14 35 -0.35\\ -8 35 -0.35\\ -2 35 -0.35\\ 0 35 -0.3\\ 2 35 -0.35\\ 8 35 -0.35\\ 14 35 -0.35\\ 20 35 -0.3\\ 27 35 -0.15\\ 35 35 -0.05\\ 45 35 0\\
-45 45 0\\ -35 45 0\\ -27 45 0\\ -20 45 0\\ -14 45 0\\ -8 45 0\\ -2 45 0\\ 0 45 0\\ 2 45 0\\ 8 45 0\\ 14 45 0\\ 20 45 0\\ 27 45 0\\ 35 45 0\\ 45 45 0\\
};
\end{axis}

% right colour bar
\begin{axis}[cbaxis, at={(520.8pt,-29.1pt)}, ymin=-1.70, ymax=2.72,
  point meta min=-1.70, point meta max=2.72,
  ytick={-1,0,1,2}, yticklabels={−1,0,1,2}]
\addplot[lay, mesh/cols=2] table[meta index=2, row sep=\\] {
x y v\\
0 -1.70 -1.70\\ 1 -1.70 -1.70\\
0 -1.1475 -1.1475\\ 1 -1.1475 -1.1475\\
0 -0.0425 -0.0425\\ 1 -0.0425 -0.0425\\
0 1.0625 1.0625\\ 1 1.0625 1.0625\\
0 2.1675 2.1675\\ 1 2.1675 2.1675\\
0 2.72 2.72\\ 1 2.72 2.72\\
};
\end{axis}

% ---------------- Texts ----------------
\node[anchor=center, font=\fontsize{18.4}{20}\selectfont] at (296.1pt,-9.3pt) {Errors on reconstruction};
\begin{scope}[every node/.style={font=\fontsize{13.3}{14}\selectfont\bfseries, inner sep=0pt}]
\node[anchor=base west] at (4.5pt,-28.5pt) {+180};
\node[anchor=base west] at (4.5pt,-215.1pt) {-180};
\node[anchor=base west] at (19.5pt,-230.1pt) {-180};
\node[anchor=base west] at (203.4pt,-227.4pt) {+180};
\node[anchor=base] at (126pt,-232.8pt) {X(arcsec)};
\node[anchor=center, rotate=90] at (24pt,-123pt) {Y(arcsec)};
\node[anchor=base west] at (297.9pt,-230.1pt) {-180};
\node[anchor=base] at (407.4pt,-232.8pt) {X(arcsec)};
\node[anchor=base west] at (491.4pt,-226.5pt) {+180};
\end{scope}
\node[anchor=base, inner sep=0pt, font=\fontsize{18.2}{19}\selectfont\bfseries] at (128.1pt,-252.6pt) {Fourier deconvolution};
\node[anchor=base, inner sep=0pt, font=\fontsize{18.2}{19}\selectfont\bfseries] at (408.5pt,-252.6pt) {Inversion method};
\node[anchor=west, inner sep=0pt, font=\fontsize{14.5}{15}\selectfont\sffamily] at (548.5pt,-14.4pt) {x 10\raisebox{0.8ex}{\fontsize{11}{11}\selectfont −4}};
\end{tikzpicture}
\end{document}
